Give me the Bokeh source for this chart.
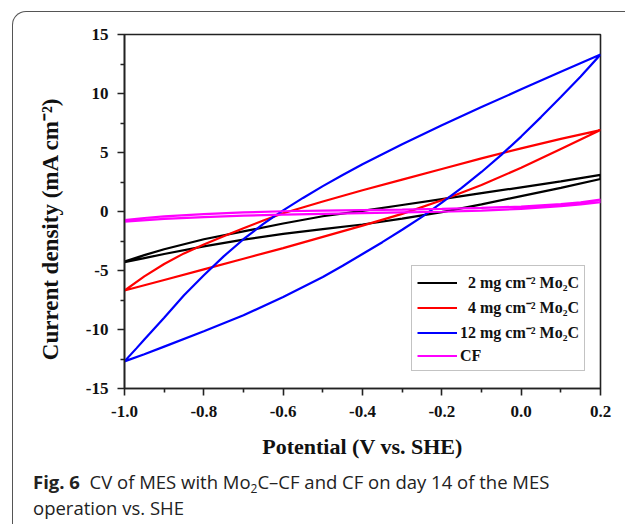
from bokeh.plotting import figure
from bokeh.models import Range1d, FixedTicker, ColumnDataSource, Div
from bokeh.layouts import column
from bokeh.embed import file_html
from bokeh.resources import INLINE

# ---------------- data ----------------
x_ticks = [-1.0, -0.8, -0.6, -0.4, -0.2, 0.0, 0.2]
x_tick_labels = ["-1.0", "-0.8", "-0.6", "-0.4", "-0.2", "0.0", "0.2"]
x_minor = [-0.9, -0.7, -0.5, -0.3, -0.1, 0.1]
y_ticks = [-15, -10, -5, 0, 5, 10, 15]
y_tick_labels = ["-15", "-10", "-5", "0", "5", "10", "15"]
y_minor = [-12.5, -7.5, -2.5, 2.5, 7.5, 12.5]

# black: 2 mg cm-2 Mo2C  (forward scan then reverse scan)
black_x = [-1.0, -0.95, -0.9, -0.8, -0.7, -0.6, -0.5, -0.4, -0.3, -0.2, -0.1, 0.0, 0.1, 0.2,
           0.2, 0.1, 0.0, -0.1, -0.2, -0.3, -0.4, -0.5, -0.6, -0.7, -0.8, -0.9, -0.95, -1.0]
black_y = [-4.25, -3.7, -3.2, -2.35, -1.68, -1.02, -0.4, 0.05, 0.55, 1.05, 1.55, 2.05, 2.55, 3.1,
           2.75, 2.0, 1.3, 0.6, -0.05, -0.6, -1.1, -1.5, -1.9, -2.38, -2.95, -3.6, -3.95, -4.3]

# red: 4 mg cm-2 Mo2C
red_x = [-1.0, -0.95, -0.9, -0.85, -0.8, -0.75, -0.7, -0.65, -0.6, -0.5, -0.4, -0.3, -0.2, -0.1, 0.0, 0.1, 0.2,
         0.2, 0.1, 0.0, -0.1, -0.2, -0.3, -0.4, -0.5, -0.6, -0.7, -0.8, -0.9, -1.0]
red_y = [-6.7, -5.5, -4.45, -3.55, -2.8, -2.1, -1.42, -0.77, -0.15, 0.85, 1.8, 2.7, 3.6, 4.5, 5.35, 6.15, 6.9,
         6.9, 5.3, 3.7, 2.25, 0.95, -0.2, -1.2, -2.15, -3.1, -4.0, -4.9, -5.8, -6.7]

# blue: 12 mg cm-2 Mo2C
blue_x = [-1.0, -0.97, -0.95, -0.9, -0.85, -0.8, -0.75, -0.7, -0.65, -0.6, -0.55, -0.5, -0.45, -0.4,
          -0.3, -0.2, -0.1, 0.0, 0.1, 0.2,
          0.2, 0.15, 0.1, 0.05, 0.0, -0.05, -0.1, -0.15, -0.2, -0.25, -0.3, -0.35, -0.4, -0.45,
          -0.5, -0.6, -0.7, -0.8, -0.9, -0.95, -1.0]
blue_y = [-12.7, -11.6, -10.85, -9.0, -7.1, -5.4, -3.8, -2.35, -1.05, 0.1, 1.15, 2.15, 3.1, 4.0,
          5.7, 7.3, 8.85, 10.35, 11.85, 13.3,
          13.3, 11.45, 9.7, 8.0, 6.35, 4.8, 3.35, 2.0, 0.75, -0.45, -1.55, -2.6, -3.6, -4.6,
          -5.55, -7.25, -8.8, -10.15, -11.45, -12.1, -12.7]

# magenta: CF
cf_x = [-1.0, -0.95, -0.9, -0.8, -0.7, -0.6, -0.5, -0.4, -0.3, -0.2, -0.1, 0.0, 0.1, 0.15, 0.2,
        0.2, 0.15, 0.1, 0.0, -0.1, -0.2, -0.3, -0.4, -0.5, -0.6, -0.7, -0.8, -0.9, -1.0]
cf_y = [-0.72, -0.55, -0.42, -0.22, -0.08, 0.02, 0.08, 0.12, 0.16, 0.22, 0.3, 0.42, 0.62, 0.78, 1.0,
        0.8, 0.6, 0.45, 0.22, 0.08, -0.02, -0.08, -0.14, -0.2, -0.26, -0.35, -0.47, -0.62, -0.85]

series_labels = ["  2 mg cm\u207b\u00b2 Mo\u2082C", "  4 mg cm\u207b\u00b2 Mo\u2082C",
                 "12 mg cm\u207b\u00b2 Mo\u2082C", "CF"]
series_colors = ["#000000", "#ff0000", "#0000ff", "#ff00ff"]

x_title = "Potential (V vs. SHE)"
y_title = "Current density (mA cm\u207b\u00b2)"
caption_bold = "Fig. 6"
caption_line1 = "CV of MES with Mo<sub>2</sub>C\u2013CF and CF on day 14 of the MES"
caption_line2 = "operation vs. SHE"

# ---------------- figure ----------------
W, H = 604, 449
p = figure(width=W, height=H, output_backend="svg", toolbar_location=None,
           x_range=Range1d(-1.0, 0.2), y_range=Range1d(-15, 15),
           min_border_left=111, min_border_right=17, min_border_top=22, min_border_bottom=72)
p.background_fill_color = "white"
p.border_fill_color = None
p.grid.visible = False
p.outline_line_color = "#222222"
p.outline_line_width = 1.6

serif = "Liberation Serif"
for ax, ticks, minor, labels in ((p.xaxis[0], x_ticks, x_minor, x_tick_labels),
                                  (p.yaxis[0], y_ticks, y_minor, y_tick_labels)):
    ax.ticker = FixedTicker(ticks=ticks, minor_ticks=minor)
    ax.major_label_overrides = {t: l for t, l in zip(ticks, labels)}
    ax.axis_line_color = "#222222"
    ax.axis_line_width = 1.6
    ax.major_tick_line_color = "#222222"
    ax.minor_tick_line_color = "#222222"
    ax.major_tick_line_width = 1.6
    ax.minor_tick_line_width = 1.6
    ax.major_tick_out = 7
    ax.major_tick_in = 0
    ax.minor_tick_out = 4
    ax.minor_tick_in = 0
    ax.major_label_text_font = serif
    ax.major_label_text_font_style = "bold"
    ax.major_label_text_font_size = "17px"
    ax.major_label_text_color = "#111111"
    ax.axis_label_text_font = serif
    ax.axis_label_text_font_style = "bold"
    ax.axis_label_text_color = "#111111"

p.xaxis.axis_label_text_font_size = "22px"
p.yaxis.axis_label_text_font_size = "23px"
p.xaxis.axis_label = x_title
# trailing spaces push the rotated title's ink downward, as in the original
p.yaxis.axis_label = y_title + "\u00a0" * 6
p.xaxis.major_label_standoff = 10
p.yaxis.major_label_standoff = 9
p.xaxis.axis_label_standoff = 14
p.yaxis.axis_label_standoff = 20

for xs, ys, lab, col in ((black_x, black_y, series_labels[0], series_colors[0]),
                         (red_x, red_y, series_labels[1], series_colors[1]),
                         (blue_x, blue_y, series_labels[2], series_colors[2]),
                         (cf_x, cf_y, series_labels[3], series_colors[3])):
    src = ColumnDataSource(dict(x=xs, y=ys))
    p.line("x", "y", source=src, line_color=col, line_width=2.2, legend_label=lab)

lg = p.legend[0]
lg.location = (287, 17)
lg.border_line_color = "#888888"
lg.border_line_width = 1
lg.background_fill_color = "white"
lg.background_fill_alpha = 1
lg.label_text_font = serif
lg.label_text_font_style = "bold"
lg.label_text_font_size = "16px"
lg.label_text_color = "#111111"
lg.glyph_width = 40
lg.glyph_height = 19
lg.label_height = 19
lg.label_standoff = 3
lg.padding = 5
lg.spacing = 3
lg.margin = 0

caption_html = (
    '<div style="font-family:\'Open Sans\';font-size:18.5px;line-height:26px;color:#222222;'
    'padding:3px 0 0 15px;white-space:nowrap;">'
    '<b>' + caption_bold + '</b>&nbsp; ' + caption_line1.replace(
        '<sub>', '<sub style="font-size:12px;line-height:0;vertical-align:-4px;">') +
    '<br>' + caption_line2 + '</div>'
)
cap = Div(text=caption_html, width=W, height=58)

layout = column(p, cap, spacing=0,
                styles={"margin-left": "12px", "margin-top": "11px",
                        "border-top": "1.3px solid #555555", "border-left": "1.3px solid #555555",
                        "border-top-left-radius": "14px"})

open("out.html", "w").write(file_html(layout, INLINE))
